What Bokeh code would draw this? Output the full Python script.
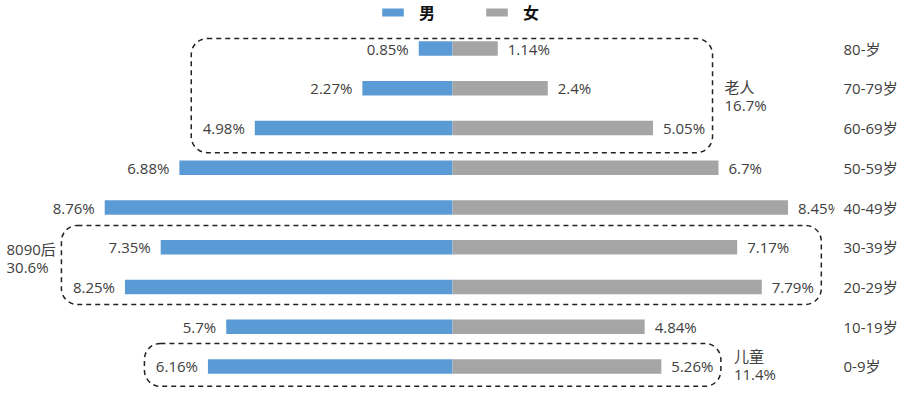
from bokeh.plotting import figure
from bokeh.models import (ColumnDataSource, Range1d, LinearAxis, FixedTicker,
                          BoxAnnotation, Legend, LegendItem, Label)
from bokeh.core.properties import value
from bokeh.embed import file_html
from bokeh.resources import INLINE

# ---- data ----
age_groups = ["0-9岁", "10-19岁", "20-29岁", "30-39岁", "40-49岁",
              "50-59岁", "60-69岁", "70-79岁", "80-岁"]
male = [6.16, 5.70, 8.25, 7.35, 8.76, 6.88, 4.98, 2.27, 0.85]
female = [5.26, 4.84, 7.79, 7.17, 8.45, 6.70, 5.05, 2.40, 1.14]
group_names = ["儿童", "8090后", "老人"]
group_rows = [[0], [2, 3], [6, 7, 8]]

# ---- styles ----
FONT = "Open Sans, Noto Sans CJK SC"
TXT = "#404040"
BLUE = "#5B9BD5"
GRAY = "#A5A5A5"

idx = list(range(len(age_groups)))
src = ColumnDataSource(dict(
    y=idx,
    mleft=[-v for v in male],
    male=male,
    female=female,
    zero=[0] * len(idx),
    mlab=[f"{v:g}%" for v in male],
    flab=[f"{v:g}%" for v in female],
))

p = figure(frame_width=834, frame_height=396, output_backend="svg",
           toolbar_location=None, x_range=Range1d(-11.385, 9.622),
           y_range=Range1d(-0.755, 9.208),
           min_border_left=0, min_border_right=0, min_border_top=0,
           min_border_bottom=0)
p.xaxis.visible = False
p.yaxis.visible = False
p.xgrid.visible = False
p.ygrid.visible = False
p.outline_line_color = None

r_m = p.hbar(y="y", left="mleft", right="zero", height=0.36, source=src,
             fill_color=BLUE, line_color=None)
r_f = p.hbar(y="y", left="zero", right="female", height=0.36, source=src,
             fill_color=GRAY, line_color=None)

p.text(x="mleft", y="y", text="mlab", source=src, x_offset=-10,
       text_align="right", text_baseline="middle", text_font=value(FONT),
       text_font_size="15px", text_color=TXT)
p.text(x="female", y="y", text="flab", source=src, x_offset=10,
       text_align="left", text_baseline="middle", text_font=value(FONT),
       text_font_size="15px", text_color=TXT)

# right category axis
ax = LinearAxis(ticker=FixedTicker(ticks=idx),
                major_label_overrides={i: s for i, s in zip(idx, age_groups)})
ax.axis_line_color = None
ax.major_tick_line_color = None
ax.minor_tick_line_color = None
ax.major_tick_out = 0
ax.major_tick_in = 0
ax.major_label_standoff = 9
ax.major_label_text_font = FONT
ax.major_label_text_font_size = "15px"
ax.major_label_text_color = TXT
p.add_layout(ax, "right")

# group boxes
pads = {"儿童": (0.58, 0.50), "8090后": (0.55, 0.44), "老人": (0.25, 0.62)}
for name, rows in zip(group_names, group_rows):
    mx_m = max(male[i] for i in rows)
    mx_f = max(female[i] for i in rows)
    tp, bp = pads[name]
    top = max(rows) + tp
    bottom = min(rows) - bp
    left = -mx_m - 1.6
    right = mx_f + 1.5
    p.add_layout(BoxAnnotation(left=left, right=right, top=top, bottom=bottom,
                               fill_alpha=0, line_color="#222222",
                               line_alpha=1.0, line_width=1.5,
                               line_dash="5 4", border_radius=16))
    share = sum(male[i] + female[i] for i in rows)
    txt = f"{name}\n{share:.1f}%"
    mid = (top + bottom) / 2
    if name == "8090后":
        lab = Label(x=6, x_units="screen", y=mid, y_offset=7, text=txt,
                    text_align="left", text_baseline="middle")
    elif name == "老人":
        lab = Label(x=right, y=mid, x_offset=12, text=txt,
                    text_align="left", text_baseline="middle")
    else:
        lab = Label(x=right, y=mid, x_offset=13, text=txt,
                    text_align="left", text_baseline="middle")
    lab.text_font = FONT
    lab.text_font_size = "15px"
    lab.text_color = TXT
    lab.text_line_height = 0.9
    p.add_layout(lab)

legend = Legend(items=[LegendItem(label="男", renderers=[r_m]),
                       LegendItem(label="女", renderers=[r_f])],
                orientation="horizontal", location=(379, 372),
                glyph_width=27, glyph_height=10, label_standoff=13,
                spacing=44, padding=0, margin=0,
                border_line_alpha=0, background_fill_alpha=0,
                label_text_font="Noto Sans CJK SC",
                label_text_font_style="bold", label_text_font_size="16px",
                label_text_color="#111111")
p.add_layout(legend, "center")

open("out.html", "w").write(file_html(p, INLINE))
